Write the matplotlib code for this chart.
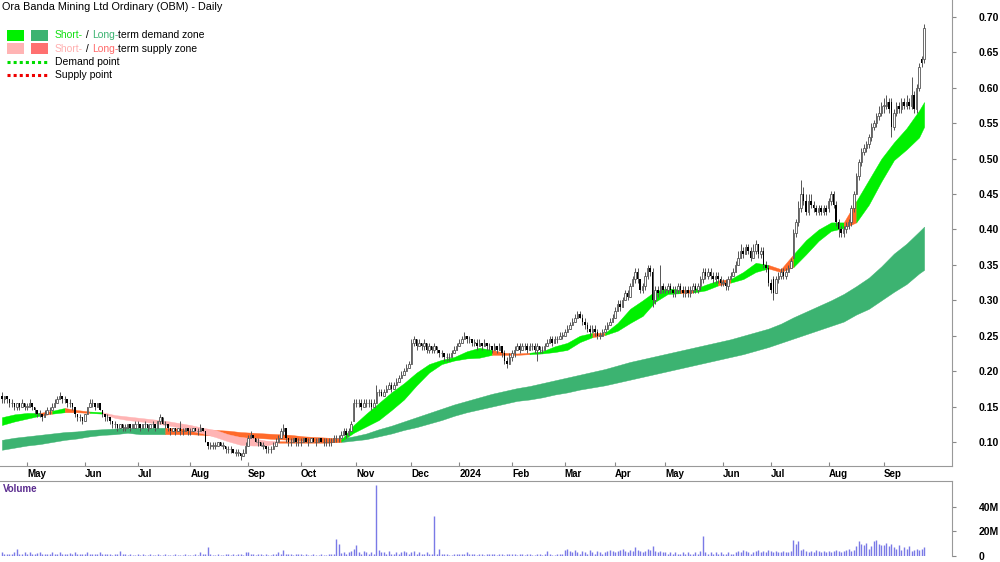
import matplotlib.pyplot as plt
from matplotlib.lines import Line2D
from matplotlib.patches import Rectangle
from matplotlib.transforms import ScaledTranslation
import numpy as np
import pandas as pd

plt.rcParams['font.family'] = ['Liberation Sans', 'DejaVu Sans']

# ASX trading days shown on the chart
holidays = ['2023-04-25', '2023-06-12', '2023-12-25', '2023-12-26', '2024-01-01',
            '2024-01-26', '2024-03-29', '2024-04-01', '2024-04-25', '2024-06-10']
dates = pd.bdate_range('2023-04-14', '2024-09-24', freq='C', holidays=holidays)

# daily prices in cents, one line per month (Apr 2023 .. Sep 2024)
opens = [
    16.5, 16, 16.5, 16, 15.5, 15.5, 15, 15.5, 15, 15.5,
    15, 15, 15.5, 15, 14.5, 14, 14, 13.5, 14, 14.5, 14.5, 15, 15.5, 16, 16.5, 16, 16, 15.5, 15.5, 15, 14, 13.5, 13.5,
    13, 14, 15, 15.5, 15.5, 15, 15.5, 14.5, 14, 13.5, 13.5, 13, 12.5, 12.5, 12, 12.5, 12, 12, 12.5, 12, 12,
    12.5, 12.5, 12, 12.5, 12.5, 12, 12.5, 12.5, 12, 13, 13.5, 12.5, 12.5, 12, 11.5, 12, 11.5, 12, 11.5, 11.5, 12,
    11.5, 11.5, 12, 11.5, 11.5, 12, 11.5, 10, 9.5, 9.5, 9.5, 9.5, 10, 9.5, 9.5, 9, 9, 9, 8.5, 8.5, 8.5, 8, 8.5,
    9.5, 10.5, 11, 10.5, 10, 10, 9.5, 9.5, 9, 9, 9, 9.5, 10, 10.5, 11.5, 12, 10.5, 10, 10, 10.5, 10,
    10, 10, 10.5, 10, 10, 10.5, 10, 10, 10.5, 10, 10, 10, 10, 10, 10.5, 10.5, 10.5, 11, 11.5, 11, 11.5, 13,
    15.5, 15.5, 15.5, 15, 15.5, 15.5, 15.5, 15, 15.5, 17, 17, 16.5, 17, 17.5, 18, 17.5, 18, 18.5, 19, 19.5, 20, 20.5,
    21, 24, 24.5, 23.5, 24, 23.5, 24, 23, 23.5, 23, 23.5, 23, 22.5, 22.5, 22, 22, 22, 22.5, 23,
    23.5, 24, 24.5, 25, 24.5, 24.5, 24, 24, 23.5, 24, 23.5, 24, 23.5, 23.5, 23, 23.5, 23, 23.5, 22.5, 21.5, 21,
    22, 22.5, 23, 23.5, 23, 23.5, 23.5, 23, 23.5, 23.5, 23, 23.5, 23, 23, 23.5, 24, 24.5, 24, 24.5, 24.5, 25,
    25, 25.5, 26, 26.5, 27, 27.5, 28, 27.5, 27, 26.5, 26, 25.5, 26, 25.5, 25, 25, 25.5, 26, 26.5, 27,
    27.5, 28.5, 29.5, 29, 30, 31, 30.5, 32, 33, 34, 33, 31.5, 32, 33.5, 34.5, 34, 30, 31.5, 31, 32,
    31.5, 31.5, 32, 31.5, 31, 31.5, 32, 31.5, 31, 31.5, 31, 31.5, 32, 31.5, 32, 33, 34, 33.5, 34, 33.5, 33, 33.5, 33,
    32.5, 32.5, 32, 33, 33.5, 34, 35, 36, 37, 36.5, 37.5, 37, 36, 37, 38, 36.5, 37, 35, 34.5,
    32.5, 33, 31, 33, 33.5, 34, 33.5, 34, 34.5, 36, 39.5, 41, 43, 45, 44, 42.5, 44, 43.5, 43, 42.5, 43, 42.5, 43,
    43, 44, 45, 43.5, 41, 40, 39.5, 40, 40.5, 41, 43, 45, 47.5, 49.5, 51, 51.5, 52, 53, 54.5, 55, 56, 56.5,
    57.5, 57.5, 58, 58, 54.5, 56.5, 57.5, 57, 58, 57.5, 58, 57.5, 59, 57, 60, 64, 64,
]
highs = [
    17, 16.5, 16.5, 16, 16, 15.5, 15.5, 15.5, 16, 15.5,
    15.5, 16, 15.5, 15, 14.5, 14.5, 14, 14.5, 15, 15, 15.5, 16, 16.5, 17, 16.5, 16.5, 16, 16, 15.5, 15, 14, 14, 13.5,
    14, 15, 16, 16, 15.5, 15.5, 15.5, 14.5, 14, 14, 13.5, 13, 13, 12.5, 12.5, 12.5, 12.5, 12.5, 12.5, 12.5, 13,
    13, 12.5, 12.5, 13, 12.5, 12.5, 13, 12.5, 13, 14, 13.5, 13, 12.5, 12, 12, 12, 12, 13, 12, 12, 12,
    12, 12, 12, 12, 12.5, 12, 11.5, 10, 10, 10, 10, 10, 10, 10, 9.5, 9.5, 9.5, 9, 9, 9, 8.5, 9, 10,
    11, 11.5, 11, 10.5, 10.5, 10, 10, 9.5, 9.5, 9.5, 10, 10.5, 11, 12, 12.5, 12, 10.5, 10.5, 10.5, 10.5, 10.5,
    10.5, 10.5, 10.5, 10.5, 10.5, 10.5, 10.5, 10.5, 10.5, 10.5, 10.5, 10.5, 10.5, 11, 11, 11, 11.5, 12, 12, 12, 13, 16,
    16, 16, 16, 16, 16, 16, 16, 16, 18, 17.5, 17.5, 17.5, 18, 18.5, 18.5, 18.5, 19, 19.5, 20, 20.5, 21, 21.5,
    24.5, 25, 24.5, 24.5, 24, 24.5, 24, 24, 23.5, 24, 23.5, 23, 23, 22.5, 22.5, 22.5, 23, 23.5, 24,
    24.5, 25, 25.5, 25, 25, 24.5, 24.5, 24.5, 24.5, 24, 24.5, 24, 24, 23.5, 24, 23.5, 24, 23.5, 23, 22, 22.5,
    23, 23.5, 24, 24, 24, 24, 24, 24, 24, 24, 24, 23.5, 23.5, 24, 24.5, 25, 25, 25, 25, 25.5, 25.5,
    26, 26.5, 27, 27.5, 28, 28.5, 28.5, 28, 27.5, 27, 26.5, 26.5, 26.5, 26, 25.5, 26, 26.5, 27, 27.5, 28,
    29, 30, 30, 30.5, 31.5, 31.5, 32.5, 33.5, 34.5, 34.5, 33, 32.5, 34, 35, 35, 34.5, 32, 32, 35, 32.5,
    32, 32.5, 32.5, 32, 32, 32.5, 32.5, 32, 32, 32, 32, 32.5, 32.5, 32.5, 33.5, 34.5, 34.5, 34.5, 34.5, 34, 34, 34, 33.5,
    33, 33, 33.5, 34, 34.5, 35.5, 37, 38, 37.5, 38, 38, 37.5, 38, 38.5, 38, 37.5, 37.5, 35.5, 35,
    33, 33.5, 33.5, 34, 34.5, 34.5, 34.5, 35, 36, 40, 41.5, 44, 47, 46, 45, 45, 45, 44, 43.5, 43.5, 43.5, 43.5, 43.5,
    44.5, 45.5, 45.5, 44, 41.5, 40.5, 40.5, 41, 41.5, 43.5, 45.5, 48, 50, 51.5, 52, 52.5, 53.5, 55, 55.5, 56.5, 57.5, 58,
    58.5, 59, 58.5, 58.5, 57, 58, 58, 58.5, 58.5, 59, 58.5, 61.5, 59.5, 60.5, 63.5, 64.5, 69,
]
lows = [
    15.5, 15.5, 15.5, 15, 15, 14.5, 14.5, 14.5, 15, 14.5,
    14.5, 15, 14.5, 14, 13.5, 13.5, 13, 13.5, 14, 14, 14.5, 15, 15.5, 16, 15.5, 15.5, 15, 15, 14.5, 13.5, 13, 13, 12.5,
    13, 14, 15, 15, 14.5, 15, 14.5, 13.5, 13, 13, 12.5, 12, 12, 11.5, 12, 11.5, 11.5, 12, 11.5, 12, 12,
    12, 11.5, 12, 12, 11.5, 12, 12, 11.5, 12, 12.5, 12.5, 12, 11.5, 11, 11.5, 11, 11.5, 11, 11, 11.5, 11,
    11, 11.5, 11.5, 11, 11.5, 11.5, 10, 9, 9, 9, 9, 9.5, 9.5, 9, 8.5, 8.5, 8.5, 8.5, 8, 8, 7.5, 8, 8.5,
    9.5, 10.5, 10.5, 10, 9.5, 9.5, 9, 8.5, 8.5, 8.5, 9, 9.5, 10, 10.5, 11, 10, 9.5, 9.5, 10, 9.5, 9.5,
    9.5, 10, 10, 9.5, 10, 10, 9.5, 10, 10, 9.5, 9.5, 9.5, 9.5, 10, 10, 10, 10.5, 11, 10.5, 11, 11.5, 13,
    15, 15, 14.5, 15, 15, 15, 14.5, 15, 15.5, 16.5, 16.5, 16.5, 17, 17.5, 17, 17.5, 18, 18.5, 19, 19.5, 20, 20.5,
    21, 23.5, 23, 23.5, 23, 23, 22.5, 22.5, 22.5, 22.5, 22.5, 22, 22, 21.5, 21.5, 21.5, 22, 22.5, 23,
    23.5, 24, 24.5, 24, 24, 23.5, 23.5, 23, 23.5, 23, 23.5, 23, 23, 22.5, 23, 22.5, 23, 22, 21, 20.5, 21,
    21.5, 22, 23, 22.5, 23, 23, 22.5, 23, 23, 22.5, 21.5, 22.5, 22.5, 23, 23.5, 24, 23.5, 24, 24, 24.5, 24.5,
    25, 25.5, 26, 26.5, 27, 27.5, 27.5, 26.5, 26, 25.5, 25, 25.5, 25, 24.5, 24.5, 25, 25.5, 26, 26.5, 27,
    27.5, 28.5, 28.5, 29, 30, 30, 30.5, 32, 32.5, 32.5, 31, 31, 31.5, 33, 33.5, 29, 29.5, 30.5, 31, 31,
    31, 31, 31, 30.5, 30.5, 31, 31, 30.5, 30.5, 30.5, 30.5, 31, 31, 31, 31.5, 32.5, 33, 33, 33, 32.5, 32.5, 32.5, 32,
    32, 31.5, 31.5, 33, 33.5, 34, 35, 36, 36, 36.5, 36.5, 35.5, 36, 36.5, 36, 36, 34.5, 34, 32,
    31, 30, 31, 32.5, 33, 33, 33, 34, 34.5, 36, 39, 40.5, 42.5, 43.5, 42, 42, 43, 42.5, 42, 42, 42, 42, 42,
    42.5, 43.5, 43, 40.5, 39, 39, 39, 39.5, 40, 40.5, 42.5, 45, 47, 49, 50.5, 51, 51.5, 52.5, 54, 54.5, 55.5, 56,
    56.5, 57, 56.5, 53, 54, 56, 56.5, 56.5, 57, 57, 57, 57, 56.5, 56.5, 59.5, 63, 63.5,
]
closes = [
    16, 16.5, 16, 15.5, 15.5, 15, 15.5, 15, 15.5, 15,
    15, 15.5, 15, 14.5, 14, 14, 13.5, 14, 14.5, 14.5, 15, 15.5, 16, 16.5, 16, 16, 15.5, 15.5, 15, 14, 13.5, 13.5, 13,
    14, 15, 15.5, 15.5, 15, 15.5, 14.5, 14, 13.5, 13.5, 13, 12.5, 12.5, 12, 12.5, 12, 12, 12.5, 12, 12.5, 12.5,
    12.5, 12, 12.5, 12.5, 12, 12.5, 12.5, 12, 13, 13.5, 12.5, 12.5, 12, 11.5, 12, 11.5, 12, 11.5, 11.5, 12, 11.5,
    11.5, 12, 11.5, 11.5, 12, 11.5, 10, 9.5, 9.5, 9.5, 9.5, 10, 9.5, 9.5, 9, 9, 9, 8.5, 8.5, 8.5, 8, 8.5, 9.5,
    10.5, 11, 10.5, 10, 10, 9.5, 9.5, 9, 9, 9, 9.5, 10, 10.5, 11.5, 12, 10.5, 10, 10, 10.5, 10, 10,
    10, 10.5, 10, 10, 10.5, 10, 10, 10.5, 10, 10, 10, 10, 10, 10.5, 10.5, 10.5, 11, 11.5, 11, 11.5, 12.5, 15.5,
    15.5, 15.5, 15, 15.5, 15.5, 15.5, 15, 15.5, 17, 17, 16.5, 17, 17.5, 18, 17.5, 18, 18.5, 19, 19.5, 20, 20.5, 21,
    24, 24.5, 23.5, 24, 23.5, 24, 23, 23.5, 23, 23.5, 23, 22.5, 22.5, 22, 22, 22, 22.5, 23, 23.5,
    24, 24.5, 25, 24.5, 24.5, 24, 24, 23.5, 24, 23.5, 24, 23.5, 23.5, 23, 23.5, 23, 23.5, 22.5, 21.5, 21, 22,
    22.5, 23, 23.5, 23, 23.5, 23.5, 23, 23.5, 23.5, 23, 23.5, 23, 23, 23.5, 24, 24.5, 24, 24.5, 24.5, 25, 25,
    25.5, 26, 26.5, 27, 27.5, 28, 27.5, 27, 26.5, 26, 25.5, 26, 25.5, 25, 25, 25.5, 26, 26.5, 27, 27.5,
    28.5, 29.5, 29, 30, 31, 30.5, 32, 33, 34, 33, 31.5, 32, 33.5, 34.5, 34, 30, 31.5, 31, 32, 31.5,
    31.5, 32, 31.5, 31, 31.5, 32, 31.5, 31, 31.5, 31, 31.5, 32, 31.5, 32, 33, 34, 33.5, 34, 33.5, 33, 33.5, 33, 32.5,
    32.5, 32, 33, 33.5, 34, 35, 36, 37, 36.5, 37.5, 37, 36, 37, 38, 36.5, 37, 35, 34.5, 32.5,
    31.5, 31, 33, 33.5, 34, 33.5, 34, 34.5, 35.5, 39.5, 41, 43, 45, 44, 42.5, 44, 43.5, 43, 42.5, 43, 42.5, 43, 42.5,
    44, 45, 43.5, 41, 40, 39.5, 40, 40.5, 41, 43, 45, 47.5, 49.5, 51, 51.5, 52, 53, 54.5, 55, 56, 56.5, 57.5,
    57.5, 58, 57, 54.5, 56.5, 57.5, 57, 58, 57.5, 58, 57.5, 59, 57, 60, 63, 63.5, 68.5,
]
# daily volume, millions of shares
volume = [
    3, 2, 2, 2, 2, 3, 6, 1.5, 2, 3,
    2, 3, 2, 2, 2.5, 3, 2, 2, 1.5, 2, 3, 2, 2, 3, 2, 1.5, 2, 2.5, 2, 3, 2, 1.5, 2,
    2, 3, 2, 2, 1.5, 2, 3, 2, 2, 1.5, 2, 1, 1.5, 2, 4, 1.5, 2, 1, 1.5, 1, 1,
    1.5, 1, 2, 1, 1, 1.5, 1, 1, 2, 1, 1, 1.5, 1, 1, 1, 1.5, 1, 1, 1, 1.5, 1,
    1, 1, 2, 1, 3, 1.5, 1.5, 7, 2, 1, 1, 1.5, 1, 1, 2, 1.5, 1, 1.5, 1, 2, 1.5, 1, 3,
    3, 2, 1.5, 1, 2, 1.5, 1, 1.5, 1, 1, 2, 1.5, 3, 2, 5, 2, 2, 1.5, 1, 1.5, 2,
    1.5, 1, 1.5, 1, 1, 2, 1, 1, 1.5, 1, 1, 2, 1.5, 2, 14, 10, 2.5, 3, 2, 3, 4, 6,
    9, 3, 2, 4, 3, 2, 3, 2, 58, 5, 3, 3, 2, 4, 2, 2, 3, 2, 3, 4, 3, 2,
    3, 4, 2, 3, 2, 2, 3, 2, 2, 33, 2, 6, 2, 1.5, 2, 1, 1, 2, 2,
    2, 1.5, 2, 3, 2, 1.5, 2, 1, 2, 1.5, 1, 2, 1.5, 2, 1.5, 1, 2, 1.5, 1, 2, 1.5,
    1.5, 2, 1, 1.5, 2, 1, 1.5, 2, 1, 1, 2, 1.5, 1, 2, 4, 1.5, 1, 1, 2, 1.5, 2,
    5, 6, 4, 3, 5, 3, 2, 4, 3, 2, 5, 3, 2, 4, 3, 2, 3, 4, 5, 4,
    3, 4, 5, 6, 4, 3, 5, 4, 7, 5, 4, 3, 4, 6, 5, 8, 4, 3, 4, 3,
    3, 2, 3, 2, 3, 2, 2, 3, 2, 3, 2, 2, 3, 2, 4, 16, 3, 2, 3, 2, 3, 2, 3,
    2, 2, 3, 2, 2, 3, 4, 3, 5, 4, 3, 2, 3, 4, 5, 3, 4, 3, 5,
    4, 3, 4, 3, 3, 4, 3, 3, 4, 13, 10, 12, 5, 6, 4, 3, 4, 3, 5, 4, 3, 4, 3,
    4, 3, 4, 5, 4, 3, 4, 5, 6, 4, 5, 8, 12, 10, 9, 11, 6, 8, 12, 13, 10, 9,
    9, 11, 8, 10, 7, 6, 9, 5, 7, 6, 8, 4, 5, 6, 5, 6, 7,
]

# demand / supply zones read every 5th bar (cents)
zone_idx = list(range(0, 368, 5)) + [367]
lt_hi = [10.3, 10.6, 10.8, 11.0, 11.2, 11.4, 11.5, 11.7, 11.8, 11.9,
         12.0, 12.0, 12.0, 12.0, 11.9, 11.9, 11.8, 11.7, 11.6, 11.4,
         11.3, 11.2, 11.1, 11.0, 10.8, 10.7, 10.6, 10.5, 10.8, 11.2,
         11.8, 12.3, 12.9, 13.5, 14.1, 14.7, 15.3, 15.8, 16.3, 16.8,
         17.2, 17.6, 17.9, 18.3, 18.7, 19.1, 19.5, 19.9, 20.3, 20.8,
         21.3, 21.7, 22.1, 22.5, 22.9, 23.3, 23.7, 24.1, 24.5, 25.0,
         25.5, 26.0, 26.7, 27.6, 28.4, 29.2, 30.0, 30.9, 32.0, 33.2,
         34.8, 36.6, 38.0, 39.7, 40.4]
lt_lo = [8.9, 9.2, 9.5, 9.7, 10.0, 10.3, 10.5, 10.8, 11.0, 11.1,
         11.3, 11.1, 11.1, 11.1, 11.1, 11.1, 11.0, 10.9, 10.8, 10.7,
         10.6, 10.5, 10.4, 10.3, 10.2, 10.1, 10.0, 10.0, 10.2, 10.4,
         10.8, 11.2, 11.7, 12.1, 12.6, 13.1, 13.7, 14.2, 14.6, 15.0,
         15.4, 15.8, 16.0, 16.3, 16.7, 17.0, 17.4, 17.7, 18.0, 18.4,
         18.8, 19.2, 19.6, 20.0, 20.4, 20.8, 21.2, 21.6, 22.0, 22.4,
         22.9, 23.4, 24.0, 24.6, 25.2, 25.8, 26.4, 27.0, 28.0, 28.8,
         30.0, 31.2, 32.3, 33.8, 34.3]
st_hi = [13.5, 13.9, 14.1, 14.1, 14.4, 14.8, 14.5, 14.3, 14.2, 13.8,
         13.6, 13.4, 13.2, 13.0, 12.7, 12.4, 12.0, 11.7, 11.1, 10.7,
         10.5, 10.2, 10.1, 10.1, 10.1, 10.1, 10.1, 10.3, 12.4, 14.0,
         15.5, 17.0, 18.3, 19.8, 21.0, 21.6, 22.0, 22.8, 23.3, 23.0,
         22.6, 22.5, 22.6, 22.8, 23.5, 24.0, 25.0, 25.4, 25.4, 26.8,
         28.8, 30.0, 31.3, 31.7, 31.5, 31.5, 32.2, 32.8, 33.0, 34.0,
         35.3, 35.0, 34.4, 36.5, 38.5, 40.0, 41.0, 41.0, 44.0, 47.0,
         50.0, 52.3, 54.3, 56.8, 58.0]
st_lo = [12.4, 12.9, 13.3, 13.7, 14.0, 14.2, 14.2, 14.1, 14.0, 13.4,
         13.1, 12.9, 12.7, 12.4, 12.1, 11.6, 11.2, 10.7, 10.1, 9.6,
         9.5, 9.5, 9.9, 9.9, 9.9, 9.9, 9.9, 10.1, 11.3, 12.2,
         13.1, 14.5, 16.0, 18.0, 19.8, 21.0, 21.5, 21.8, 21.9, 22.3,
         22.3, 22.3, 22.4, 22.5, 22.7, 23.0, 24.1, 24.8, 25.1, 25.7,
         26.8, 27.8, 29.8, 30.9, 31.0, 31.1, 31.4, 32.1, 32.5, 33.0,
         34.0, 34.5, 34.0, 34.7, 36.5, 38.4, 39.8, 40.2, 41.0, 43.5,
         46.8, 49.8, 51.3, 53.0, 54.5]
# zone state per segment: d = demand, o = supply (orange), p = short-term supply (pink)
lt_state = 'd' * 13 + 'o' * 14 + 'd' * 48
st_state = ('dddodoodpp' 'pppppppppp' 'ppoooooddd' 'dddddddddo' 'oodddddodd'
            'ddddoddodd' 'dooddddodd' 'ddddd')

n = len(dates)
for arr in (opens, highs, lows, closes, volume):
    assert len(arr) == n, len(arr)
for arr in (lt_hi, lt_lo, st_hi, st_lo, lt_state, st_state):
    assert len(arr) == len(zone_idx), len(arr)

o = np.array(opens) / 100
h = np.array(highs) / 100
l = np.array(lows) / 100
c = np.array(closes) / 100
h = np.maximum(h, np.maximum(o, c))
l = np.minimum(l, np.minimum(o, c))
x = np.arange(n)

W, H = 1000, 562
fig = plt.figure(figsize=(10, 5.62), dpi=100)


def box(x0, y0, x1, y1):
    return [x0 / W, 1 - y1 / H, (x1 - x0) / W, (y1 - y0) / H]


ax = fig.add_axes(box(0, 0, 952, 466))
axv = fig.add_axes(box(0, 481, 952, 556))

zone_colors = {'d': None, 'o': '#ff6a2a', 'p': '#ffb4b4'}


def draw_zone(lo, hi, state, green):
    kx = np.array(zone_idx)
    lo = np.array(lo) / 100
    hi = np.array(hi) / 100
    k = 0
    while k < len(kx) - 1:
        j = k
        while j + 1 < len(kx) - 1 and state[j + 1] == state[k]:
            j += 1
        col = green if state[k] == 'd' else zone_colors[state[k]]
        sl = slice(k, j + 2)
        ax.fill_between(kx[sl], lo[sl], hi[sl], color=col, lw=0.3, zorder=1)
        k = j + 1


draw_zone(lt_lo, lt_hi, lt_state, '#3cb371')
draw_zone(st_lo, st_hi, st_state, '#00f000')

# candles
up = c >= o
ax.vlines(x, l, h, color='#555555', lw=0.7, zorder=2)
ax.bar(x[up], np.maximum(c - o, 0.0005)[up], bottom=o[up], width=0.6,
       facecolor='white', edgecolor='#555555', lw=0.6, zorder=3)
ax.bar(x[~up], (o - c)[~up], bottom=c[~up], width=0.6, color='black', lw=0, zorder=3)

xlim = (-0.76, 378.1)
ax.set_xlim(*xlim)
ax.set_ylim(0.0661, 0.724)

months = dates.to_period('M')
first = [i for i in range(1, n) if months[i] != months[i - 1]]
labels = ['2024' if dates[i].month == 1 else dates[i].strftime('%b') for i in first]
ax.set_xticks(first)
ax.set_xticklabels(labels, ha='left', fontsize=7, fontweight='bold')
shift = ScaledTranslation(2 / 100, 0, fig.dpi_scale_trans)
for lbl in ax.get_xticklabels():
    lbl.set_transform(lbl.get_transform() + shift)
ax.tick_params(axis='x', direction='in', length=3, pad=2, color='#888888')

yt = np.arange(0.10, 0.701, 0.05)
ax.yaxis.tick_right()
ax.set_yticks(yt)
ax.set_yticklabels([f'{v:.2f}' for v in yt], fontsize=7.5, fontweight='bold')
ax.tick_params(axis='y', length=3, pad=16, color='#888888')
for s in ('left', 'top'):
    ax.spines[s].set_visible(False)
for s in ('right', 'bottom'):
    ax.spines[s].set_color('#999999')
    ax.spines[s].set_linewidth(0.8)

# volume
axv.vlines(x, 0, np.array(volume) * 1e6, color='#7a7ae6', lw=1)
axv.set_xlim(*xlim)
axv.set_ylim(0, 61.2e6)
axv.set_xticks([])
axv.yaxis.tick_right()
axv.set_yticks([0, 20e6, 40e6])
axv.set_yticklabels(['0', '20M', '40M'], fontsize=7.5, fontweight='bold')
axv.tick_params(axis='y', length=3, pad=16, color='#888888')
for s in ('left', 'bottom'):
    axv.spines[s].set_visible(False)
for s in ('right', 'top'):
    axv.spines[s].set_color('#999999')
    axv.spines[s].set_linewidth(0.8)
fig.text(3 / W, 1 - 489 / H, 'Volume', color='#5b2c8f', fontsize=7,
         fontweight='bold', va='center')

# title and legend
fig.text(2 / W, 1 - 7 / H, 'Ora Banda Mining Ltd Ordinary (OBM) - Daily',
         fontsize=7.8, va='center')

renderer = fig.canvas.get_renderer()


def chunks(x_px, y_px, parts):
    xf = x_px / W
    for s, col in parts:
        t = fig.text(xf, 1 - y_px / H, s, color=col, fontsize=7.5, va='center')
        xf = t.get_window_extent(renderer).x1 / fig.bbox.width


def swatch(x0, y0, col):
    fig.add_artist(Rectangle((x0 / W, 1 - (y0 + 11) / H), 17 / W, 11 / H,
                             transform=fig.transFigure, color=col, lw=0))


swatch(7, 30, '#00f000')
swatch(31, 30, '#3cb371')
swatch(7, 43, '#ffb4b4')
swatch(31, 43, '#ff7070')
chunks(55, 35.5, [('Short-', '#11e011'), (' / ', 'black'), ('Long-', '#3cb371'),
                  ('term demand zone', 'black')])
chunks(55, 48.5, [('Short-', '#ffb0b0'), (' / ', 'black'), ('Long-', '#ff6a6a'),
                  ('term supply zone', 'black')])
fig.add_artist(Line2D([7 / W, 48 / W], [1 - 62 / H] * 2, color='#00dd00', lw=2.2,
                      ls=(0, (1, 1)), transform=fig.transFigure))
fig.add_artist(Line2D([7 / W, 48 / W], [1 - 75 / H] * 2, color='#ee0000', lw=2.2,
                      ls=(0, (1, 1)), transform=fig.transFigure))
chunks(55, 62, [('Demand point', 'black')])
chunks(55, 75, [('Supply point', 'black')])

fig.savefig('out.png', dpi=100)
